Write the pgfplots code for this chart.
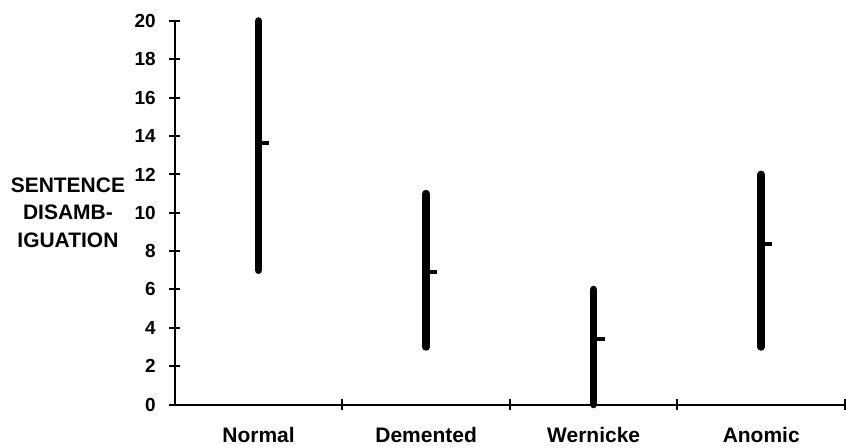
\documentclass[border=0pt]{standalone}
\usepackage{pgfplots}
\pgfplotsset{compat=1.18}
\usepackage{fontspec}
\setmainfont{Liberation Sans}
\usetikzlibrary{calc}
\begin{document}
\begin{tikzpicture}
\begin{axis}[
  scale only axis, width=671pt, height=384pt,
  xmin=-0.5, xmax=3.5, ymin=0, ymax=20,
  axis line style={draw=none},
  xtick pos=bottom, ytick pos=left,
  clip=false,
  xtick={0,1,2,3},
  xticklabels={Normal,Demented,Wernicke,Anomic},
  minor xtick={0.5,1.5,2.5,3.5},
  ytick={0,2,...,20},
  tick align=center,
  major tick length=11pt, minor tick length=11pt,
  tick style={line width=2pt, black},
  major x tick style={draw=none},
  /pgf/number format/assume math mode=true,
  xticklabel style={font=\fontsize{21}{25}\selectfont\bfseries, yshift=-14pt},
  yticklabel style={font=\fontsize{19}{22}\selectfont\bfseries, xshift=-10pt},
]
\draw[line width=2pt, black] (rel axis cs:0,1) -- (rel axis cs:0,0) -- (rel axis cs:1,0);
\addplot[line width=7.5pt, line cap=round, black] coordinates {(0,7) (0,20)};
\addplot[line width=7.5pt, line cap=round, black] coordinates {(1,3) (1,11)};
\addplot[line width=7.5pt, line cap=round, black] coordinates {(2,0) (2,6)};
\addplot[line width=7.5pt, line cap=round, black] coordinates {(3,3) (3,12)};
\addplot[line width=4pt, black] coordinates {(0,13.65) (0.065,13.65)};
\addplot[line width=4pt, black] coordinates {(1,6.9) (1.065,6.9)};
\addplot[line width=4pt, black] coordinates {(2,3.4) (2.065,3.4)};
\addplot[line width=4pt, black] coordinates {(3,8.37) (3.065,8.37)};
\coordinate (bl) at (rel axis cs:0,0);
\end{axis}
\node[align=center, font=\fontsize{21}{27.5}\selectfont\bfseries] at ($(bl)+(-107pt,192pt)$) {SENTENCE\\DISAMB-\\IGUATION};
\useasboundingbox ($(bl)+(-175pt,-43pt)$) rectangle ($(bl)+(671pt,405pt)$);
\end{tikzpicture}
\end{document}
